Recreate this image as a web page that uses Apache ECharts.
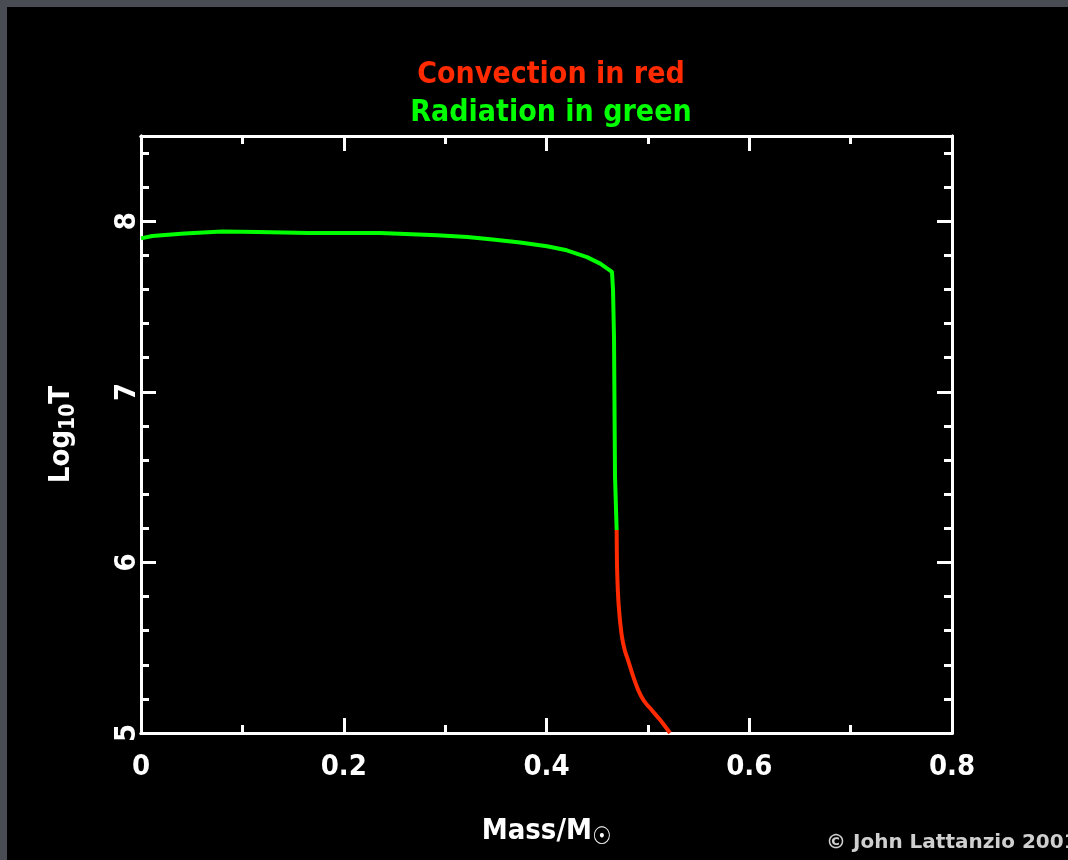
<!DOCTYPE html>
<html>
<head>
<meta charset="utf-8">
<script src="https://cdn.jsdelivr.net/npm/echarts@6/dist/echarts.min.js"></script>
<style>
  html, body { margin: 0; padding: 0; background: #4a4c54; }
  #chart { width: 1068px; height: 860px; }
</style>
</head>
<body>
<div id="chart"></div>
<script>
// Radiation (green) segment: mass fraction vs log10 T
const greenMass = [0, 0.011, 0.043, 0.080, 0.115, 0.165, 0.236, 0.292, 0.322, 0.347, 0.374, 0.4005, 0.420, 0.440, 0.453, 0.4646, 0.4656, 0.4666, 0.4676, 0.4692];
const greenLogT = [7.90, 7.914, 7.928, 7.940, 7.937, 7.932, 7.932, 7.918, 7.908, 7.893, 7.875, 7.854, 7.830, 7.790, 7.752, 7.703, 7.600, 7.320, 6.500, 6.190];
// Convection (red) segment
const redMass = [0.4692, 0.4697, 0.4712, 0.4740, 0.4770, 0.4808, 0.4856, 0.4906, 0.4960, 0.5037, 0.5120, 0.5218];
const redLogT = [6.19, 5.95, 5.75, 5.58, 5.49, 5.420, 5.330, 5.250, 5.190, 5.135, 5.077, 5.00];

const titleLines = ['Convection in red', 'Radiation in green'];
const copyright = '\u00A9 John Lattanzio 2001';

const FONT = "'DejaVu Sans Condensed', 'Liberation Sans Narrow', 'DejaVu Sans', sans-serif";
const WHITE = '#ffffff';
const RED = '#ff2a00';
const GREEN = '#00ff00';

const pairs = (xs, ys) => xs.map((x, i) => [x, ys[i]]);

const frameLine = { show: true, onZero: false, lineStyle: { color: WHITE, width: 3 } };

function xAx(position, interval, tickLen, showLabel) {
  return {
    type: 'value', position, min: 0, max: 0.8, interval,
    axisLine: frameLine,
    axisTick: { show: true, inside: true, length: tickLen, lineStyle: { color: WHITE, width: 3 } },
    axisLabel: showLabel ? {
      show: true, color: WHITE, fontFamily: FONT, fontSize: 29, fontWeight: 'bold', margin: 20,
      formatter: v => String(+v.toFixed(1))
    } : { show: false },
    splitLine: { show: false }
  };
}
function yAx(position, interval, tickLen, showLabel) {
  return {
    type: 'value', position, min: 5, max: 8.5, interval,
    axisLine: frameLine,
    axisTick: { show: true, inside: true, length: tickLen, lineStyle: { color: WHITE, width: 3 } },
    axisLabel: showLabel ? {
      show: true, color: WHITE, fontFamily: FONT, fontSize: 29, fontWeight: 'bold', rotate: 90, margin: -1,
      formatter: v => (Math.abs(v - Math.round(v)) < 1e-6 ? String(Math.round(v)) : '')
    } : { show: false },
    splitLine: { show: false }
  };
}

const xMain = xAx('bottom', 0.2, 15, true);
xMain.name = '{m|Mass/M}{s|\u2609}';
xMain.nameLocation = 'middle';
xMain.nameGap = 79;
xMain.nameTextStyle = {
  rich: {
    m: { color: WHITE, fontFamily: FONT, fontSize: 29, fontWeight: 'bold' },
    s: { color: WHITE, fontFamily: FONT, fontSize: 24, fontWeight: 'bold', verticalAlign: 'bottom', padding: [14, 0, 0, 0] }
  }
};
const yMain = yAx('left', 1, 15, true);
yMain.name = '{m|Log}{s|10}{m|T}';
yMain.nameLocation = 'middle';
yMain.nameRotate = 90;
yMain.nameGap = 62;
yMain.nameTextStyle = {
  rich: {
    m: { color: WHITE, fontFamily: FONT, fontSize: 29, fontWeight: 'bold' },
    s: { color: WHITE, fontFamily: FONT, fontSize: 21, fontWeight: 'bold', padding: [14, 0, 0, 0] }
  }
};

const chart = echarts.init(document.getElementById('chart'));
chart.setOption({
  backgroundColor: '#4a4c54',
  animation: false,
  graphic: [
    { type: 'rect', left: 7, top: 7, shape: { width: 1061, height: 853 }, style: { fill: '#000000' }, z: -10 },
    { type: 'text', left: 826, top: 833, style: { text: copyright, fill: '#cfcfcf', font: "bold 20px 'DejaVu Sans', sans-serif" } }
  ],
  title: [
    { text: titleLines[0], left: 546, top: 55, textAlign: 'center',
      textStyle: { color: RED, fontFamily: FONT, fontSize: 30, fontWeight: 'bold' } },
    { text: titleLines[1], left: 546, top: 93, textAlign: 'center',
      textStyle: { color: GREEN, fontFamily: FONT, fontSize: 30, fontWeight: 'bold' } }
  ],
  grid: { left: 141, right: 116, top: 136, bottom: 127, containLabel: false },
  xAxis: [
    xMain,
    xAx('bottom', 0.1, 8, false),
    xAx('top', 0.2, 15, false),
    xAx('top', 0.1, 8, false)
  ],
  yAxis: [
    yMain,
    yAx('left', 0.2, 8, false),
    yAx('right', 1, 15, false),
    yAx('right', 0.2, 8, false)
  ],
  series: [
    { type: 'line', xAxisIndex: 0, yAxisIndex: 0, data: pairs(greenMass, greenLogT),
      showSymbol: false, lineStyle: { color: GREEN, width: 4 }, z: 5 },
    { type: 'line', xAxisIndex: 0, yAxisIndex: 0, data: pairs(redMass, redLogT), smooth: 0.3,
      showSymbol: false, lineStyle: { color: RED, width: 4 }, z: 6 }
  ]
});
</script>
</body>
</html>
